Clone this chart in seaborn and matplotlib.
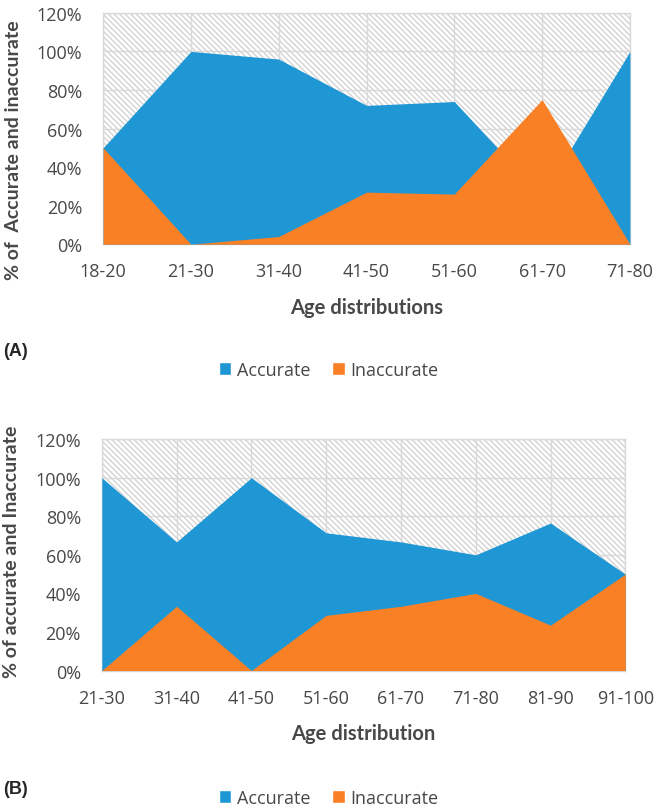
import matplotlib
matplotlib.use("Agg")
import matplotlib.pyplot as plt
from matplotlib.patches import Rectangle, Patch
import seaborn as sns
import pandas as pd
import numpy as np

# ---- data ----
cats_a = ["18-20", "21-30", "31-40", "41-50", "51-60", "61-70", "71-80"]
acc_a = [50, 100, 96, 72, 74, 25, 100]
inacc_a = [50, 0, 4, 27, 26, 75, 0]

cats_b = ["21-30", "31-40", "41-50", "51-60", "61-70", "71-80", "81-90", "91-100"]
acc_b = [100, 66.7, 100, 71.4, 66.7, 60, 76.5, 50]
inacc_b = [0, 33.3, 0, 28.6, 33.3, 40, 23.5, 50]

yticks = [0, 20, 40, 60, 80, 100, 120]

BLUE = "#2097D5"
ORANGE = "#F98025"
GRID = "#D9D9D9"
HATCH = "#D3D3D3"
TXT = "#484848"

sns.set_theme(style="white")
plt.rcParams["hatch.linewidth"] = 1.0
plt.rcParams["hatch.color"] = HATCH

fig = plt.figure(figsize=(6.61, 8.12), dpi=100)
ax_a = fig.add_axes([0.156, 0.698, 0.797, 0.285])
ax_b = fig.add_axes([0.154, 0.173, 0.792, 0.285])


def draw(ax, cats, acc, inacc, xlabel, ylabel):
    df = pd.DataFrame({"x": np.arange(len(cats)), "Accurate": acc, "Inaccurate": inacc})
    # background hatch
    ax.add_patch(Rectangle((0, 0), 1, 1, transform=ax.transAxes, facecolor="white",
                           edgecolor=HATCH, hatch="\\\\\\\\\\\\", lw=0, zorder=0))
    sns.lineplot(data=df, x="x", y="Accurate", ax=ax, color=BLUE, lw=0, zorder=2)
    sns.lineplot(data=df, x="x", y="Inaccurate", ax=ax, color=ORANGE, lw=0, zorder=3)
    ax.fill_between(df["x"], 0, df["Accurate"], color=BLUE, lw=0, zorder=2)
    ax.fill_between(df["x"], 0, df["Inaccurate"], color=ORANGE, lw=0, zorder=3)
    ax.set_xlim(0, len(cats) - 1)
    ax.set_ylim(0, 120)
    ax.set_xticks(df["x"])
    ax.set_xticklabels(cats, fontsize=13, family="Open Sans", color=TXT)
    ax.set_yticks(yticks)
    ax.set_yticklabels([f"{v}%" for v in yticks], fontsize=13, family="Open Sans", color=TXT)
    ax.tick_params(axis="x", length=0, pad=13)
    ax.tick_params(axis="y", length=0, pad=15)
    ax.set_axisbelow(True)
    ax.grid(True, color=GRID, lw=1.0)
    for s in ax.spines.values():
        s.set_color(GRID)
        s.set_linewidth(1.0)
        s.set_zorder(1)
    ax.set_xlabel(xlabel, fontsize=14.5, fontweight="bold", family="Lato", color=TXT, labelpad=12)
    ax.set_ylabel(ylabel, fontsize=14, fontweight="bold", family="Lato", color=TXT)


draw(ax_a, cats_a, acc_a, inacc_a, "Age distributions", "% of  Accurate and inaccurate")
draw(ax_b, cats_b, acc_b, inacc_b, "Age distribution", "% of accurate and Inaccurate")
ax_a.yaxis.set_label_coords(-0.154, 0.41)
ax_b.yaxis.set_label_coords(-0.156, 0.517)

handles = [Patch(facecolor=BLUE, label="Accurate"), Patch(facecolor=ORANGE, label="Inaccurate")]
for y in (1 - 371 / 812, 1 - 799 / 812):
    fig.legend(handles=handles, loc="center", bbox_to_anchor=(0.497, y), ncol=2, frameon=False,
               prop={"family": "Open Sans", "size": 13}, handlelength=0.7, handleheight=0.7,
               handletextpad=0.3, columnspacing=1.2, labelcolor=TXT)

fig.text(0.005, 1 - 352 / 812, "(A)", fontsize=13, fontweight="bold", family="Liberation Sans", va="center")
fig.text(0.005, 1 - 790 / 812, "(B)", fontsize=13, fontweight="bold", family="Liberation Sans", va="center")

fig.savefig("out.png", dpi=100)
